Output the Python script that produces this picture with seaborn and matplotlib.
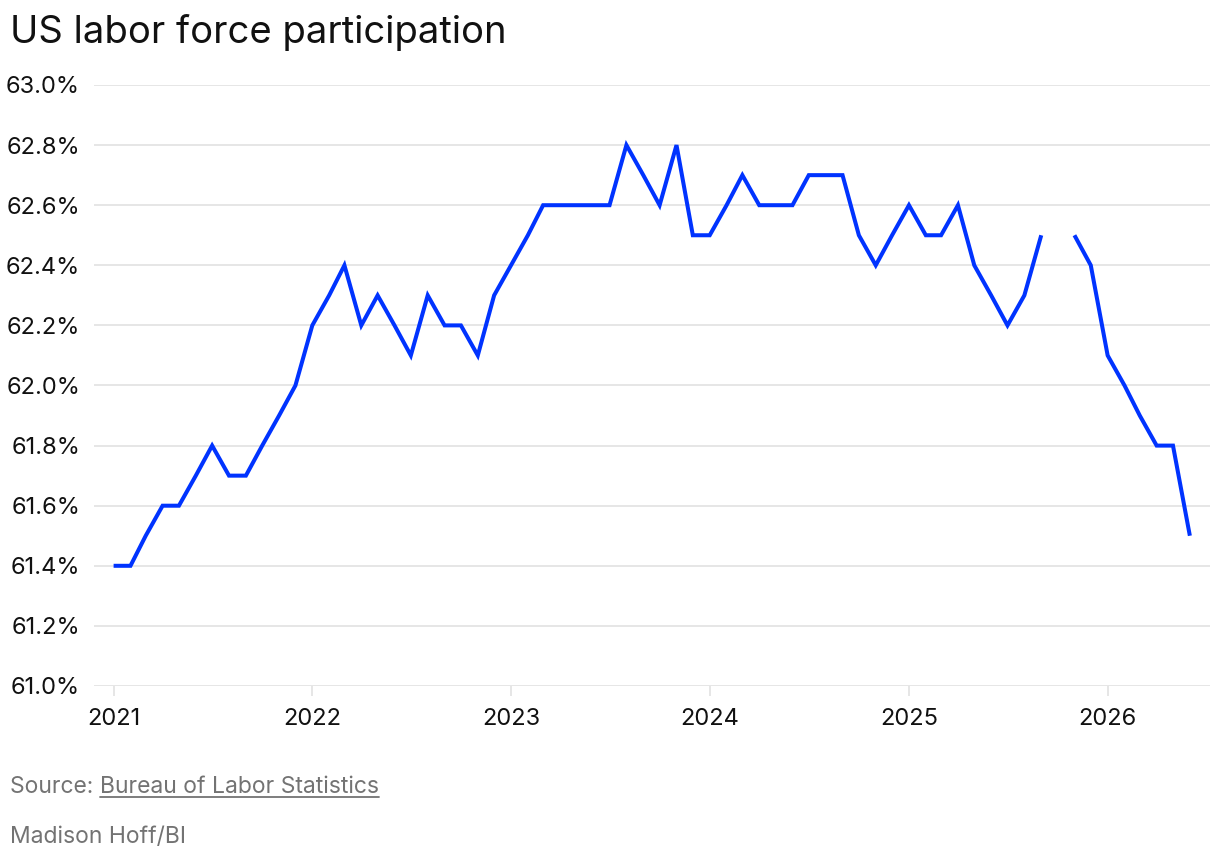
import numpy as np
import pandas as pd
import matplotlib
matplotlib.use("Agg")
import matplotlib.pyplot as plt
import matplotlib.dates as mdates
from matplotlib.ticker import FuncFormatter
from matplotlib.lines import Line2D
import seaborn as sns

# monthly labor force participation rate, Jan 2021 - Jun 2026 (Oct 2025 missing)
months = pd.date_range("2021-01-01", "2026-06-01", freq="MS")
rate_2021 = [61.4, 61.4, 61.5, 61.6, 61.6, 61.7, 61.8, 61.7, 61.7, 61.8, 61.9, 62.0]
rate_2022 = [62.2, 62.3, 62.4, 62.2, 62.3, 62.2, 62.1, 62.3, 62.2, 62.2, 62.1, 62.3]
rate_2023 = [62.4, 62.5, 62.6, 62.6, 62.6, 62.6, 62.6, 62.8, 62.7, 62.6, 62.8, 62.5]
rate_2024 = [62.5, 62.6, 62.7, 62.6, 62.6, 62.6, 62.7, 62.7, 62.7, 62.5, 62.4, 62.5]
rate_2025 = [62.6, 62.5, 62.5, 62.6, 62.4, 62.3, 62.2, 62.3, 62.5, np.nan, 62.5, 62.4]
rate_2026 = [62.1, 62.0, 61.9, 61.8, 61.8, 61.5]
rate = rate_2021 + rate_2022 + rate_2023 + rate_2024 + rate_2025 + rate_2026

df = pd.DataFrame({"date": months, "rate": rate})
# split into runs so the missing month leaves a gap
df["run"] = df["rate"].isna().cumsum()
df = df.dropna()

sns.set_theme(style="white")
plt.rcParams["font.family"] = ["Inter", "DejaVu Sans"]

blue = "#0033ff"
grid_c = "#e4e4e4"
grey = "#737373"

fig = plt.figure(figsize=(12.2, 8.6), dpi=100)
ax = fig.add_axes([94 / 1220, 1 - 686 / 860, (1210 - 94) / 1220, (686 - 85) / 860])

for _, part in df.groupby("run"):
    sns.lineplot(data=part, x="date", y="rate", ax=ax, color=blue, linewidth=2.9,
                 solid_joinstyle="miter", solid_capstyle="butt")

ax.set_ylim(61.0, 63.0)
ax.set_yticks(np.arange(61.0, 63.01, 0.2))
ax.yaxis.set_major_formatter(FuncFormatter(lambda v, p: f"{v:.1f}%"))
ax.set_xlim(pd.Timestamp("2020-11-26"), pd.Timestamp("2026-07-08"))
ax.xaxis.set_major_locator(mdates.YearLocator())
ax.xaxis.set_major_formatter(mdates.DateFormatter("%Y"))

ax.grid(axis="y", color=grid_c, linewidth=1.3)
ax.set_axisbelow(True)
for s in ax.spines.values():
    s.set_visible(False)
ax.set_xlabel("")
ax.set_ylabel("")
ax.tick_params(axis="y", length=0, pad=10, labelsize=17, labelcolor="#111111")
ax.tick_params(axis="x", length=7, width=1.3, color=grid_c, pad=9, labelsize=17,
               labelcolor="#111111", bottom=True)

fig.text(10 / 1220, 1 - 43 / 860, "US labor force participation", fontsize=27.5,
         color="#111111", va="baseline", ha="left")

src = fig.text(10 / 1220, 1 - 793 / 860, "Source: ", fontsize=16.5, color=grey,
               va="baseline", ha="left")
fig.canvas.draw()
r = fig.canvas.get_renderer()
bb = src.get_window_extent(r)
link = fig.text(bb.x1 / 1220, 1 - 793 / 860, "Bureau of Labor Statistics", fontsize=16.5,
                color=grey, va="baseline", ha="left")
bl = link.get_window_extent(r)
fig.add_artist(Line2D([bl.x0 / 1220, bl.x1 / 1220], [1 - 797 / 860, 1 - 797 / 860],
                      transform=fig.transFigure, color=grey, linewidth=1.3))
fig.text(10 / 1220, 1 - 843 / 860, "Madison Hoff/BI", fontsize=16.5, color=grey,
         va="baseline", ha="left")

fig.savefig("out.png", dpi=100)
